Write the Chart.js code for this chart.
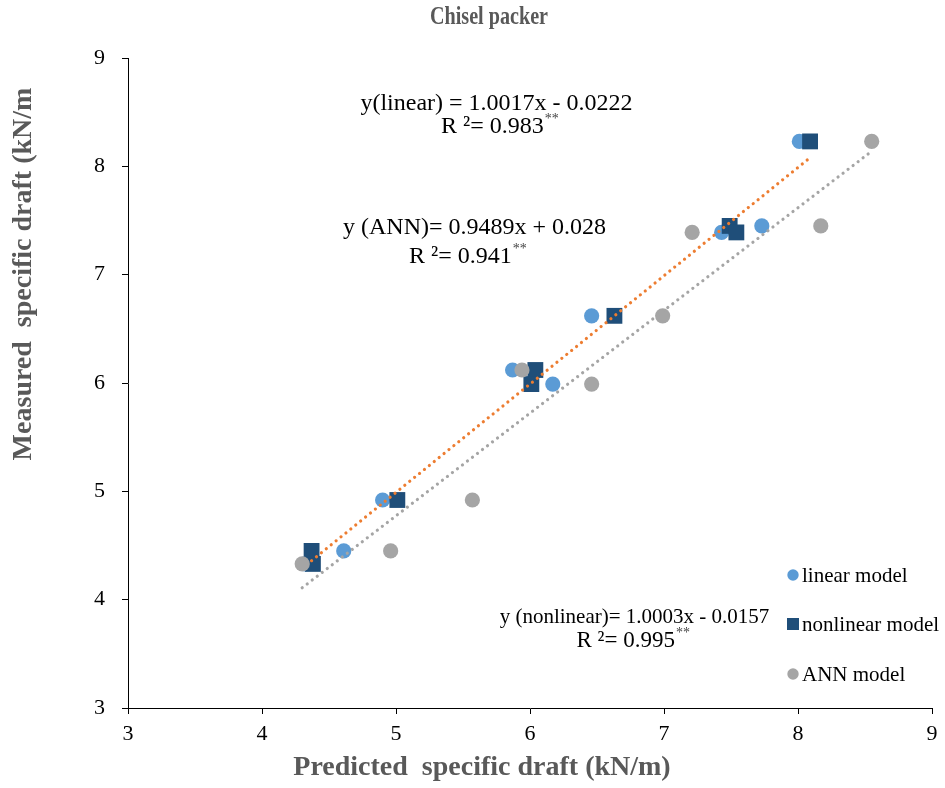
<!DOCTYPE html>
<html><head><meta charset="utf-8">
<script src="https://cdn.jsdelivr.net/npm/chart.js@4"></script>
<style>html,body{margin:0;padding:0;background:#fff}</style>
</head><body>
<canvas id="c" width="945" height="788"></canvas>
<script>
// Measured specific draft (kN/m) for each test
const measured = [8.23, 7.45, 7.39, 6.62, 6.12, 5.99, 4.92, 4.45, 4.33];
// Predicted specific draft (kN/m)
const linearPred    = [8.01, 7.73, 7.43, 6.46, 5.87, 6.17, 4.90, 4.61, 4.32];
const nonlinearPred = [8.09, 7.49, 7.54, 6.63, 6.04, 6.01, 5.01, 4.37, 4.38];
const annPred       = [8.55, 8.17, 7.21, 6.99, 5.94, 6.46, 5.57, 4.96, 4.30];
// Trend line end points
const trendOrangeX = [4.37, 8.08];
const trendOrangeY = [4.36, 8.07];
const trendGrayX = [4.30, 8.54];
const trendGrayY = [4.11, 8.13];
const xTicks = [3, 4, 5, 6, 7, 8, 9];
const yTicks = [3, 4, 5, 6, 7, 8, 9];
const legendLabels = ['linear model', 'nonlinear model', 'ANN model'];

const pts = (xs, ys) => xs.map((x, i) => ({x: x, y: ys[i]}));
const SERIF = '"Liberation Serif", "Times New Roman", serif';
const C_LIN = '#5B9BD5', C_NL = '#1F4E79', C_ANN = '#A5A5A5', C_OR = '#ED7D31';

const annotations = [
  {x: 5.75, y: 8.575, main: 'y(linear) = 1.0017x - 0.0222', sup: '', size: 24},
  {x: 5.776, y: 8.363, main: 'R ²= 0.983', sup: '**', size: 24},
  {x: 5.586, y: 7.431, main: 'y (ANN)= 0.9489x + 0.028', sup: '', size: 24},
  {x: 5.537, y: 7.163, main: 'R ²= 0.941', sup: '**', size: 24},
  {x: 6.78, y: 3.831, main: 'y (nonlinear)= 1.0003x - 0.0157', sup: '', size: 21},
  {x: 6.77, y: 3.618, main: 'R ²= 0.995', sup: '**', size: 23}
];

const textPlugin = {
  id: 'texts',
  afterDraw(chart) {
    const ctx = chart.ctx;
    const xs = chart.scales.x, ys = chart.scales.y;
    ctx.save();
    // Title (narrow, tall)
    ctx.fillStyle = '#595959';
    ctx.font = 'bold 26px ' + SERIF;
    ctx.textAlign = 'center';
    ctx.textBaseline = 'middle';
    ctx.save();
    ctx.translate(489, 17);
    const tw = ctx.measureText('Chisel packer').width;
    ctx.scale(118 / tw, 1);
    ctx.fillText('Chisel packer', 0, 0);
    ctx.restore();
    // Axis titles
    ctx.font = 'bold 28px ' + SERIF;
    ctx.fillText('Predicted  specific draft (kN/m)', 482, 768);
    ctx.save();
    ctx.translate(24, 274);
    ctx.rotate(-Math.PI / 2);
    ctx.fillText('Measured  specific draft (kN/m', 0, 0);
    ctx.restore();
    // Annotations
    ctx.fillStyle = '#000';
    annotations.forEach(a => {
      ctx.font = a.size + 'px ' + SERIF;
      const w1 = ctx.measureText(a.main).width;
      ctx.font = '14px ' + SERIF;
      const w2 = a.sup ? ctx.measureText(a.sup).width + 1 : 0;
      const cx = xs.getPixelForValue(a.x), cy = ys.getPixelForValue(a.y);
      const left = cx - (w1 + w2) / 2;
      ctx.textAlign = 'left';
      ctx.textBaseline = 'middle';
      ctx.font = a.size + 'px ' + SERIF;
      ctx.fillText(a.main, left, cy);
      if (a.sup) {
        ctx.font = '14px ' + SERIF;
        ctx.fillStyle = '#444';
        ctx.fillText(a.sup, left + w1 + 1, cy - 8);
        ctx.fillStyle = '#000';
      }
    });
    // Legend
    const lx = 793, ly = [575, 624, 674];
    ctx.font = '21px ' + SERIF;
    ctx.textAlign = 'left';
    ctx.textBaseline = 'middle';
    legendLabels.forEach((lab, i) => {
      ctx.fillStyle = [C_LIN, C_NL, C_ANN][i];
      if (i === 1) {
        ctx.fillRect(lx - 6, ly[i] - 6, 12, 12);
      } else {
        ctx.beginPath();
        ctx.arc(lx, ly[i], 5.7, 0, Math.PI * 2);
        ctx.fill();
      }
      ctx.fillStyle = '#000';
      ctx.fillText(lab, lx + 9, ly[i] + 1);
    });
    ctx.restore();
  }
};

const dotted = {showLine: true, pointRadius: 0, borderWidth: 3.2, borderDash: [0.01, 6.3], borderCapStyle: 'round', fill: false, tension: 0};

new Chart(document.getElementById('c'), {
  type: 'scatter',
  data: {
    datasets: [
      Object.assign({label: 'trend nonlinear', data: pts(trendOrangeX, trendOrangeY), borderColor: C_OR}, dotted),
      Object.assign({label: 'trend ANN', data: pts(trendGrayX, trendGrayY), borderColor: C_ANN}, dotted),
      {label: 'ANN model', data: pts(annPred, measured), pointStyle: 'circle', pointRadius: 7.6, backgroundColor: C_ANN, borderColor: C_ANN, borderWidth: 0},
      {label: 'nonlinear model', data: pts(nonlinearPred, measured), pointStyle: 'rect', pointRadius: 11.2, backgroundColor: C_NL, borderColor: C_NL, borderWidth: 0},
      {label: 'linear model', data: pts(linearPred, measured), pointStyle: 'circle', pointRadius: 7.6, backgroundColor: C_LIN, borderColor: C_LIN, borderWidth: 0}
    ]
  },
  options: {
    responsive: false,
    devicePixelRatio: 1,
    animation: false,
    layout: {padding: {top: 58, right: 13, left: 0, bottom: 0}},
    plugins: {legend: {display: false}, tooltip: {enabled: false}, title: {display: false}},
    scales: {
      x: {
        type: 'linear', min: 3, max: 9,
        afterFit(s) { s.height = 80; },
        afterBuildTicks(s) { s.ticks = xTicks.map(v => ({value: v})); },
        grid: {drawOnChartArea: false, drawTicks: true, tickLength: 6, color: '#000'},
        border: {display: true, color: '#000', width: 1},
        ticks: {color: '#000', font: {family: SERIF, size: 22}, padding: 7}
      },
      y: {
        type: 'linear', min: 3, max: 9,
        afterFit(s) { s.width = 128; },
        afterBuildTicks(s) { s.ticks = yTicks.map(v => ({value: v})); },
        grid: {drawOnChartArea: false, drawTicks: true, tickLength: 6, color: '#000'},
        border: {display: true, color: '#000', width: 1},
        ticks: {color: '#000', font: {family: SERIF, size: 22}, padding: 17}
      }
    }
  },
  plugins: [textPlugin]
});
</script>
</body></html>
